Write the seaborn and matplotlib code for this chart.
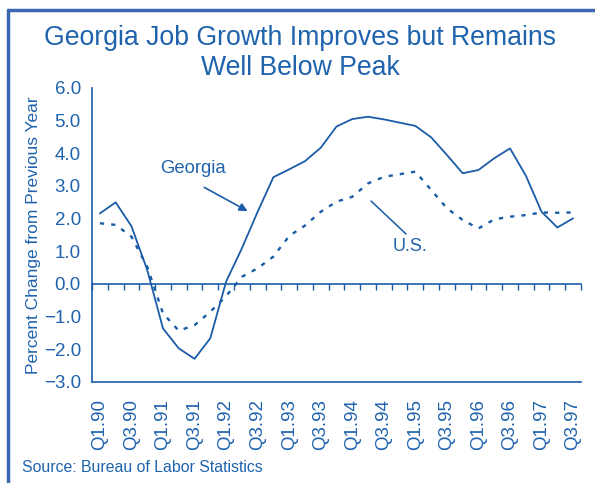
import matplotlib
matplotlib.use("Agg")
import matplotlib.pyplot as plt
import seaborn as sns
import numpy as np
import pandas as pd
from matplotlib.lines import Line2D
from matplotlib.ticker import FixedLocator

quarters = [f"Q{q}.{y}" for y in range(90, 98) for q in (1, 2, 3, 4)][:31]
georgia = [2.16, 2.50, 1.77, 0.43, -1.36, -1.97, -2.29, -1.66, 0.07, 1.09,
           2.21, 3.27, 3.51, 3.76, 4.17, 4.82, 5.05, 5.12, 5.04, 4.94,
           4.84, 4.49, 3.95, 3.39, 3.49, 3.85, 4.15, 3.32, 2.21, 1.73, 2.01]
us = [1.86, 1.81, 1.45, 0.53, -0.90, -1.43, -1.26, -0.85, -0.37, 0.22,
      0.48, 0.84, 1.47, 1.79, 2.21, 2.52, 2.67, 3.08, 3.28, 3.36,
      3.44, 2.88, 2.32, 1.96, 1.70, 1.98, 2.06, 2.11, 2.19, 2.18, 2.19]
yticks = [-3, -2, -1, 0, 1, 2, 3, 4, 5, 6]

TXT = "#1f63ad"
LN = "#1a5ca8"
FRAME = "#3b66b2"

sns.set_style("white")
plt.rcParams['font.family'] = ['Liberation Sans', 'DejaVu Sans']

fig = plt.figure(figsize=(5.95, 4.83), dpi=100)
ax = fig.add_axes([92/595, 1-382/483, (581-92)/595, (382-88)/483])

df = pd.DataFrame({"idx": np.arange(len(quarters)), "Georgia": georgia, "US": us})
sns.lineplot(data=df, x="idx", y="Georgia", ax=ax, color=LN, lw=1.3)
sns.lineplot(data=df, x="idx", y="US", ax=ax, color=LN, lw=1.7,
             linestyle=(0, (1.8, 3.0)))

ax.set_xlim(-0.5, len(quarters) - 0.5)
ax.set_ylim(-3, 6)
ax.set_yticks(yticks)
ax.set_yticklabels([f"{v:.1f}".replace("-", "\u2212") for v in yticks])
ax.set_xticks(range(0, len(quarters), 2))
ax.set_xticklabels(quarters[::2], rotation=90)
ax.xaxis.set_minor_locator(FixedLocator(np.arange(-0.5, len(quarters), 1)))
ax.tick_params(axis="x", which="major", length=0, pad=12, labelsize=13.5, labelcolor=TXT)
ax.tick_params(axis="x", which="minor", length=4, width=1, color=LN, direction="out")
ax.tick_params(axis="y", length=4, width=1, color=LN, labelsize=13.5, labelcolor=TXT, pad=4)
ax.set_xlabel("")
ax.set_ylabel("Percent Change from Previous Year", color=TXT, fontsize=12.5)
ax.yaxis.set_label_coords(-0.105, 0.5)
for s in ["top", "right"]:
    ax.spines[s].set_visible(False)
for s in ["left", "bottom"]:
    ax.spines[s].set_color(LN)
    ax.spines[s].set_linewidth(1.2)

sec = ax.secondary_xaxis(1/3)
sec.spines["bottom"].set_color(LN)
sec.spines["bottom"].set_linewidth(1.2)
sec.set_xticks(np.arange(-0.5, len(quarters), 1))
sec.set_xticklabels([])
sec.tick_params(axis="x", length=4, width=1, color=LN, direction="out")

ax.text(5.9, 3.55, "Georgia", color=TXT, fontsize=13.3, ha="center", va="center")
ax.annotate("", xy=(9.52, 2.19), xytext=(6.46, 3.0),
            arrowprops=dict(arrowstyle="-|>", color=LN, lw=1.2, mutation_scale=12))
ax.text(19.66, 1.16, "U.S.", color=TXT, fontsize=13, ha="center", va="center")
ax.plot([17.19, 19.41], [2.54, 1.53], color=LN, lw=1.1)

fig.text(300/595, 1-53/483, "Georgia Job Growth Improves but Remains\nWell Below Peak",
         color=TXT, fontsize=19.2, ha="center", va="center", linespacing=1.24)
fig.text(22/595, 1-468/483, "Source: Bureau of Labor Statistics", color=TXT,
         fontsize=11.4, ha="left", va="center")

fig.add_artist(Line2D([8/595, 1], [1-10/483, 1-10/483], color=FRAME, lw=2.5,
                      transform=fig.transFigure))
fig.add_artist(Line2D([8/595, 8/595], [0, 1-10/483], color=FRAME, lw=2.5,
                      transform=fig.transFigure))

fig.savefig("out.png", dpi=100)
